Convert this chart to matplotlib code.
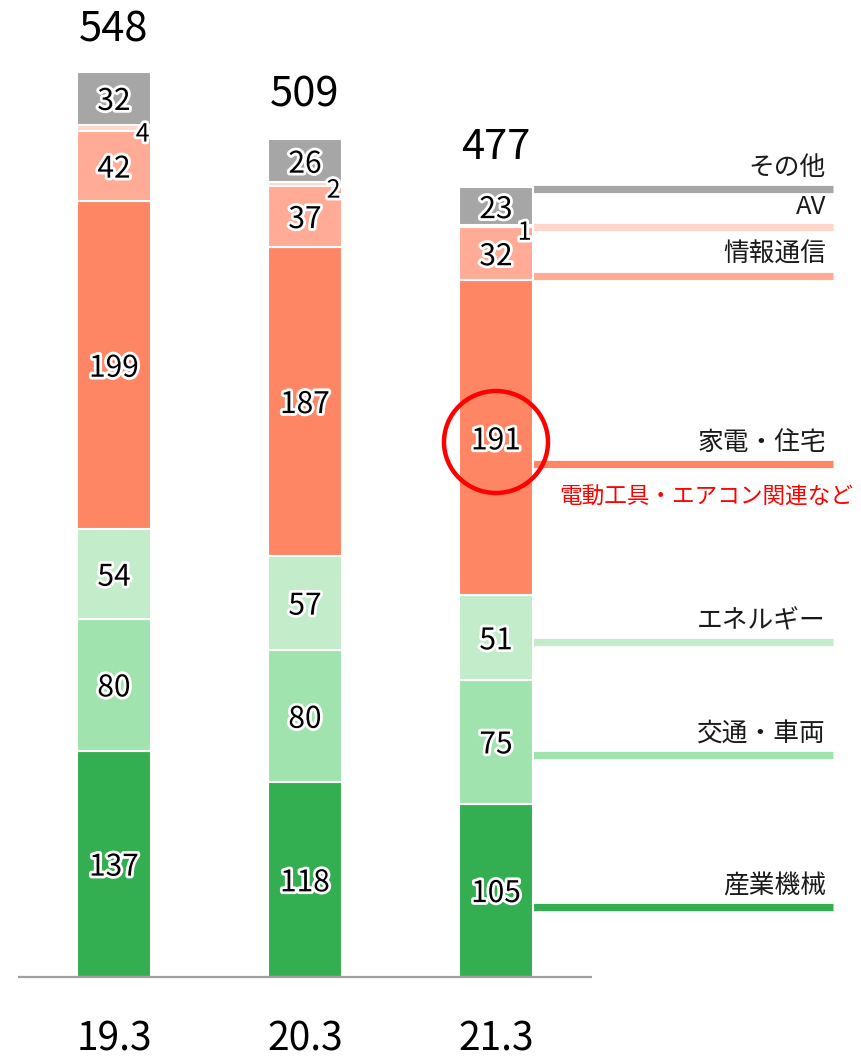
import matplotlib
matplotlib.use("Agg")
import matplotlib.pyplot as plt
import matplotlib.patheffects as pe
from matplotlib.patches import Ellipse
import numpy as np

plt.rcParams['font.family'] = ['Noto Sans CJK JP', 'DejaVu Sans']

categories = ["19.3", "20.3", "21.3"]
segments = ["産業機械", "交通・車両", "エネルギー", "家電・住宅", "情報通信", "AV", "その他"]
industrial = [137, 118, 105]
transport = [80, 80, 75]
energy = [54, 57, 51]
home = [199, 187, 191]
infocom = [42, 37, 32]
av = [4, 2, 1]
other = [32, 26, 23]
totals = [548, 509, 477]
colors = ["#33AE50", "#A0E3AE", "#C2ECCA", "#FF8665", "#FFAB96", "#FFD6CC", "#A6A6A6"]
# legend line heights (value units) on the right side
legend_line_y = [42.4, 134.5, 203.0, 310.7, 424.6, 453.7, 477.3]
note_text = "電動工具・エアコン関連など"

series = [industrial, transport, energy, home, infocom, av, other]

W, H = 861, 1060
fig = plt.figure(figsize=(W / 100, H / 100), dpi=100)
ax = fig.add_axes([0, 0, 1, 1])
px_per_x = 191.0
px_per_y = 1.652
x0_px = 114.0
base_px = 977.0
ax.set_xlim(-x0_px / px_per_x, (W - x0_px) / px_per_x)
ax.set_ylim(-(H - base_px) / px_per_y, base_px / px_per_y)
ax.axis("off")

x = np.arange(len(categories))
bw = 74 / px_per_x
stroke = [pe.withStroke(linewidth=4, foreground="white")]

bottom = np.zeros(len(categories))
for i, (vals, col) in enumerate(zip(series, colors)):
    vals = np.array(vals, dtype=float)
    ax.bar(x, vals, bw, bottom=bottom, color=col, edgecolor="white", linewidth=1.5, zorder=2)
    for j in range(len(x)):
        if segments[i] == "AV":
            ax.text(x[j] + 0.15, bottom[j] + vals[j] / 2 - 4, f"{int(vals[j])}",
                    ha="center", va="center", fontsize=18, color="black",
                    path_effects=stroke, zorder=4)
        else:
            ax.text(x[j], bottom[j] + vals[j] / 2 - 2, f"{int(vals[j])}",
                    ha="center", va="center", fontsize=21.5, color="black",
                    path_effects=stroke, zorder=4)
    bottom += vals

for j in range(len(x)):
    ax.text(x[j], totals[j] + 25, f"{totals[j]}", ha="center", va="center",
            fontsize=30, color="black", zorder=4)
    ax.text(x[j], -38, categories[j], ha="center", va="center",
            fontsize=28, color="black", zorder=4)

# baseline
ax.plot([(18 - x0_px) / px_per_x, (592 - x0_px) / px_per_x], [0, 0],
        color="#A0A0A0", lw=1.6, zorder=3, solid_capstyle="butt")

# legend lines and labels
lx0 = x[2] + bw / 2
lx1 = (833 - x0_px) / px_per_x
tx = (826 - x0_px) / px_per_x
for name, col, ly in zip(segments, colors, legend_line_y):
    ax.plot([lx0, lx1], [ly, ly], color=col, lw=5.2, solid_capstyle="butt", zorder=1)
    ax.text(tx, ly + 12.5, name, ha="right", va="center", fontsize=18.5,
            color="#1a1a1a", zorder=4)

ax.text((853 - x0_px) / px_per_x, 310.7 - 20.5, note_text, ha="right", va="center",
        fontsize=16.3, color="#FF0000", zorder=4)

# red circle highlight
cx = x[2]
cy = (base_px - 442) / px_per_y
ax.add_patch(Ellipse((cx, cy), 104 / px_per_x, 102 / px_per_y, fill=False,
                     edgecolor="#FF0000", lw=3.2, zorder=5))

fig.savefig("out.png", dpi=100)
